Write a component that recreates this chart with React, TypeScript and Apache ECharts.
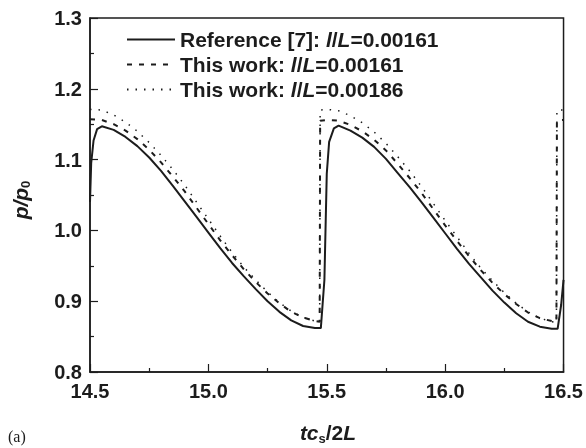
import React, { useEffect, useRef } from "react";
import * as echarts from "echarts";

// Reference [7]: l/L = 0.00161 (solid)
const refX = [
  14.5, 14.505, 14.515, 14.53, 14.55, 14.6, 14.65, 14.7, 14.75, 14.8, 14.85, 14.9, 14.95,
  15.0, 15.05, 15.1, 15.15, 15.2, 15.25, 15.3, 15.35, 15.4, 15.45, 15.475, 15.49, 15.5,
  15.51, 15.53, 15.55, 15.6, 15.65, 15.7, 15.75, 15.8, 15.85, 15.9, 15.95, 16.0, 16.05,
  16.1, 16.15, 16.2, 16.25, 16.3, 16.35, 16.4, 16.45, 16.475, 16.49, 16.5,
];
const refY = [
  1.04, 1.095, 1.127, 1.143, 1.147, 1.142, 1.132, 1.119, 1.103, 1.084, 1.063, 1.041, 1.019,
  0.997, 0.975, 0.954, 0.935, 0.917, 0.9, 0.885, 0.873, 0.865, 0.862, 0.862, 0.93, 1.08,
  1.125, 1.144, 1.148, 1.141, 1.131, 1.118, 1.101, 1.081, 1.061, 1.04, 1.018, 0.996, 0.974,
  0.953, 0.934, 0.915, 0.898, 0.883, 0.871, 0.864, 0.861, 0.861, 0.895, 0.93,
];

// This work: l/L = 0.00161 (dashed)
const work1X = [
  14.5, 14.55, 14.6, 14.65, 14.7, 14.75, 14.8, 14.85, 14.9, 14.95, 15.0, 15.05, 15.1, 15.15,
  15.2, 15.25, 15.3, 15.35, 15.4, 15.45, 15.47, 15.472, 15.5, 15.55, 15.6, 15.65, 15.7,
  15.75, 15.8, 15.85, 15.9, 15.95, 16.0, 16.05, 16.1, 16.15, 16.2, 16.25, 16.3, 16.35,
  16.4, 16.45, 16.47, 16.472, 16.5,
];
const work1Y = [
  1.157, 1.156, 1.15, 1.141, 1.129, 1.114, 1.096, 1.076, 1.055, 1.032, 1.009, 0.986, 0.965,
  0.945, 0.927, 0.911, 0.897, 0.885, 0.877, 0.872, 0.871, 1.155, 1.156, 1.155, 1.149, 1.14,
  1.128, 1.113, 1.094, 1.074, 1.053, 1.03, 1.007, 0.985, 0.964, 0.944, 0.926, 0.91, 0.896,
  0.884, 0.876, 0.872, 0.871, 1.155, 1.156,
];

// This work: l/L = 0.00186 (dotted)
const work2X = [
  14.5, 14.55, 14.6, 14.65, 14.7, 14.75, 14.8, 14.85, 14.9, 14.95, 15.0, 15.05, 15.1, 15.15,
  15.2, 15.25, 15.3, 15.35, 15.4, 15.45, 15.47, 15.472, 15.5, 15.55, 15.6, 15.65, 15.7,
  15.75, 15.8, 15.85, 15.9, 15.95, 16.0, 16.05, 16.1, 16.15, 16.2, 16.25, 16.3, 16.35,
  16.4, 16.45, 16.47, 16.472, 16.5,
];
const work2Y = [
  1.171, 1.17, 1.163, 1.153, 1.14, 1.124, 1.106, 1.086, 1.064, 1.04, 1.016, 0.992, 0.969,
  0.948, 0.93, 0.913, 0.898, 0.886, 0.877, 0.872, 0.87, 1.17, 1.171, 1.169, 1.162, 1.152,
  1.139, 1.123, 1.104, 1.084, 1.062, 1.038, 1.014, 0.991, 0.968, 0.947, 0.929, 0.912, 0.897,
  0.885, 0.876, 0.871, 0.87, 1.17, 1.17,
];

const seriesNames = ["ref", "w1", "w2"];
const legendLabels = [
  "{n|Reference [7]: }{i|l}{n|/}{i|L}{n|=0.00161}",
  "{n|This work: }{i|l}{n|/}{i|L}{n|=0.00161}",
  "{n|This work: }{i|l}{n|/}{i|L}{n|=0.00186}",
];
const xTicks = { min: 14.5, max: 16.5, step: 0.5 };
const yTicks = { min: 0.8, max: 1.3, step: 0.1 };

const FONT = "'Liberation Sans', Arial, sans-serif";
const INK = "#1c1c1c";

function pairs(xs: number[], ys: number[]) {
  return xs.map((x, i) => [x, ys[i]]);
}

export default function App() {
  const ref = useRef<HTMLDivElement>(null);
  useEffect(() => {
    if (!ref.current) return;
    const chart = echarts.init(ref.current, null, { renderer: "svg" });
    const axisCommon = {
      axisLine: { show: true, lineStyle: { color: INK, width: 1.5 } },
      axisTick: { show: true, inside: true, length: 8, lineStyle: { color: INK, width: 1.2 } },
      minorTick: { show: true, splitNumber: 2, length: 4, lineStyle: { color: INK, width: 1.2 } },
      splitLine: { show: false },
      axisLabel: {
        color: INK,
        fontFamily: FONT,
        fontWeight: "bold",
        fontSize: 20,
        formatter: (v: number) => v.toFixed(1),
      },
    };
    const richLegend = {
      n: { fontFamily: FONT, fontWeight: "bold", fontSize: 21, color: INK },
      i: { fontFamily: FONT, fontWeight: "bold", fontStyle: "italic", fontSize: 21, color: INK },
    };
    chart.setOption({
      animation: false,
      grid: {
        left: 90,
        right: 20,
        top: 18,
        bottom: 76,
        show: true,
        borderColor: INK,
        borderWidth: 1.5,
      },
      xAxis: {
        type: "value",
        min: xTicks.min,
        max: xTicks.max,
        interval: xTicks.step,
        ...axisCommon,
        axisLabel: { ...axisCommon.axisLabel, margin: 9 },
      },
      yAxis: {
        type: "value",
        min: yTicks.min,
        max: yTicks.max,
        interval: yTicks.step,
        ...axisCommon,
        axisLabel: { ...axisCommon.axisLabel, margin: 8 },
      },
      legend: {
        orient: "vertical",
        left: 126,
        top: 29,
        padding: 0,
        itemWidth: 48,
        itemHeight: 14,
        itemGap: 4,
        data: seriesNames,
        itemStyle: { opacity: 0 },
        formatter: (name: string) => legendLabels[seriesNames.indexOf(name)],
        textStyle: { color: INK, rich: richLegend },
      },
      series: [
        {
          name: "ref",
          type: "line",
          data: pairs(refX, refY),
          symbol: "none",
          showSymbol: false,
          lineStyle: { color: INK, width: 2, type: "solid" },
          itemStyle: { color: INK },
        },
        {
          name: "w1",
          type: "line",
          data: pairs(work1X, work1Y),
          symbol: "none",
          showSymbol: false,
          lineStyle: { color: INK, width: 2, type: [5, 7] },
          itemStyle: { color: INK },
        },
        {
          name: "w2",
          type: "line",
          data: pairs(work2X, work2Y),
          symbol: "none",
          showSymbol: false,
          lineStyle: { color: INK, width: 1.5, type: [1.5, 7] },
          itemStyle: { color: INK },
        },
      ],
      graphic: [
        {
          type: "text",
          x: 20,
          y: 200,
          rotation: Math.PI / 2,
          style: {
            text: "{i|p/p}{s|0}",
            align: "center",
            verticalAlign: "middle",
            rich: {
              i: { fontFamily: FONT, fontWeight: "bold", fontStyle: "italic", fontSize: 21, fill: INK },
              s: { fontFamily: FONT, fontWeight: "bold", fontSize: 13, fill: INK, padding: [11, 0, 0, 0] },
            },
          },
        },
        {
          type: "text",
          x: 328,
          y: 432,
          style: {
            text: "{i|tc}{s|s}{n|/2}{i|L}",
            align: "center",
            verticalAlign: "middle",
            rich: {
              i: { fontFamily: FONT, fontWeight: "bold", fontStyle: "italic", fontSize: 21, fill: INK },
              n: { fontFamily: FONT, fontWeight: "bold", fontSize: 21, fill: INK },
              s: { fontFamily: FONT, fontWeight: "bold", fontSize: 13, fill: INK, padding: [12, 0, 0, 0] },
            },
          },
        },
        {
          type: "text",
          x: 8,
          y: 436,
          style: {
            text: "(a)",
            verticalAlign: "middle",
            fontFamily: "'Liberation Serif', 'Times New Roman', serif",
            fontSize: 16,
            fill: INK,
          },
        },
      ],
    });
    return () => chart.dispose();
  }, []);
  return (
    <div
      ref={ref}
      style={{ position: "fixed", left: 0, top: 0, width: 586, height: 448 }}
    />
  );
}
